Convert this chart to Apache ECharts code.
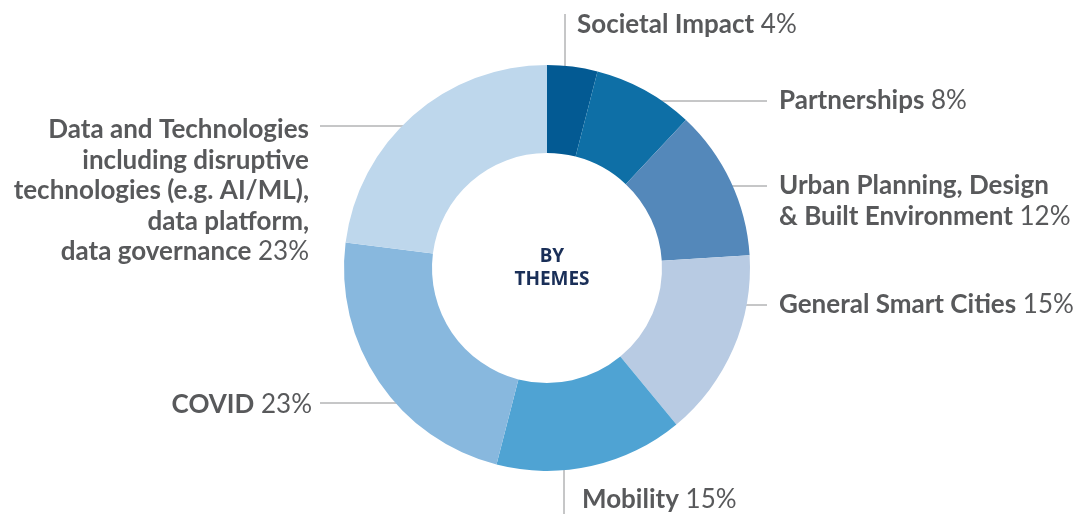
<!DOCTYPE html>
<html>
<head>
<meta charset="utf-8">
<script src="https://cdn.jsdelivr.net/npm/echarts@6/dist/echarts.min.js"></script>
<style>
html,body{margin:0;padding:0;background:#fff;}
#c{width:1073px;height:514px;}
</style>
</head>
<body>
<div id="c"></div>
<script>
// Data
const categories = [
  'Societal Impact',
  'Partnerships',
  'Urban Planning, Design\n& Built Environment',
  'General Smart Cities',
  'Mobility',
  'COVID',
  'Data and Technologies\nincluding disruptive\ntechnologies (e.g. AI/ML),\ndata platform,\ndata governance'
];
const values = [4, 8, 12, 15, 15, 23, 23];
const colors = ['#035a93', '#0e6fa6', '#5488ba', '#b8cbe3', '#4fa3d3', '#88b8de', '#bed7ec'];
const centerTitle = 'BY\nTHEMES';

// Label placement (layout only)
const CX = 547, CY = 268;
const layouts = [
  {x: 577, y: 25, align: 'left', line: [[565, 80], [565, 14]]},
  {x: 779, y: 101, align: 'left', line: [[645, 101], [767, 101]]},
  {x: 779, y: 201, align: 'left', line: [[716, 186], [767, 186]]},
  {x: 779, y: 305, align: 'left', line: [[731, 305], [767, 305]]},
  {x: 582, y: 500, align: 'left', line: [[564, 449], [564, 514]]},
  {x: 312, y: 405, align: 'right', line: [[415, 403], [320, 403]]},
  {x: 309, y: 191, align: 'right', line: [[415, 126], [320, 126]]}
];

const chart = echarts.init(document.getElementById('c'), null, {renderer: 'canvas'});
const FONT = 'Lato';
chart.setOption({
  animation: false,
  backgroundColor: '#ffffff',
  title: {
    text: centerTitle,
    left: CX, top: CY - 28,
    textAlign: 'center',
    textStyle: {fontFamily: '"Noto Sans"', fontWeight: 'bold', fontSize: 19, color: '#1a2f58', lineHeight: 23}
  },
  series: [{
    type: 'pie',
    center: [CX, CY],
    radius: [115, 203],
    startAngle: 90,
    clockwise: true,
    silent: true,
    data: categories.map((c, i) => ({name: c, value: values[i], itemStyle: {color: colors[i]}})),
    label: {
      show: true,
      overflow: 'none',
      formatter: function (p) {
        const lines = p.name.split('\n');
        return lines.map((l, i) => '{b|' + l + '}' + (i === lines.length - 1 ? '{p| ' + p.value + '%}' : '')).join('\n');
      },
      rich: {
        b: {fontFamily: FONT, fontWeight: 'bold', fontSize: 26, color: '#58595b', lineHeight: 30.5},
        p: {fontFamily: FONT, fontWeight: 'normal', fontSize: 26, color: '#58595b', lineHeight: 30.5}
      }
    },
    labelLine: {show: true, lineStyle: {color: '#8d8e90', width: 1}},
    labelLayout: function (params) {
      const L = layouts[params.dataIndex];
      return {x: L.x, y: L.y, align: L.align, verticalAlign: 'middle', labelLinePoints: [L.line[0], L.line[1], L.line[1]]};
    }
  }]
});
</script>
</body>
</html>
